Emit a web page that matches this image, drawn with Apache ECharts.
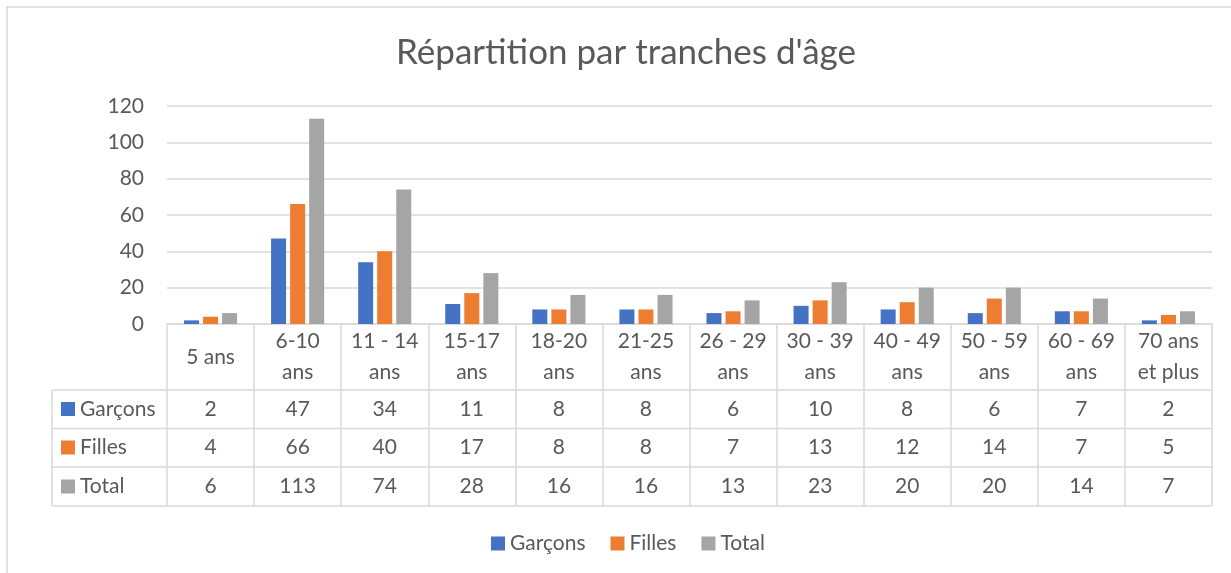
<!DOCTYPE html>
<html>
	<head>
		<meta charset="utf-8">
		<script src="https://cdn.jsdelivr.net/npm/echarts@6/dist/echarts.min.js"></script>
		<style>
			html, body { margin:0; padding:0; background:#fff; }
			#main { width:1231px; height:573px; }
		</style>
	</head>
	<body>
		<div id="main"></div>
		<script>
			// données
			var categories = ['5 ans', '6-10\nans', '11 - 14\nans', '15-17\nans', '18-20\nans', '21-25\nans', '26 - 29\nans', '30 - 39\nans', '40 - 49\nans', '50 - 59\nans', '60 - 69\nans', '70 ans\net plus'];
			var garcons = [2, 47, 34, 11, 8, 8, 6, 10, 8, 6, 7, 2];
			var filles  = [4, 66, 40, 17, 8, 8, 7, 13, 12, 14, 7, 5];
			var total   = [6, 113, 74, 28, 16, 16, 13, 23, 20, 20, 14, 7];
			var seriesNames = ['Garçons', 'Filles', 'Total'];
			var colors = ['#4472C4', '#ED7D31', '#A5A5A5'];
			var yTicks = [0, 20, 40, 60, 80, 100, 120];

			var font = 'Lato, "Open Sans", sans-serif';
			var fs = 21;
			var txt = '#595959';
			var lineC = '#d9d9d9';

			// géométrie du tableau
			var gLeft = 167, gRight = 1212, gTop = 106, gBottom = 324;
			var tableLeft = 52;
			var rowLines = [390, 428.5, 467, 506];
			var rowCenters = [409, 447.5, 486.5];
			var headCenter = 357;

			var rows = [garcons, filles, total];

			var xAxes = [{
				type: 'category',
				gridIndex: 0,
				data: categories,
				position: 'bottom',
				axisLine: {lineStyle: {color: lineC, width: 1.5}},
				axisTick: {show: true, length: rowLines[3] - gBottom, lineStyle: {color: lineC, width: 1.5}},
				axisLabel: {
					color: txt, fontFamily: font, fontSize: fs, lineHeight: 31,
					verticalAlign: 'middle', margin: headCenter - gBottom, interval: 0
				}
			}];
			rows.forEach(function(r, i){
				xAxes.push({
					type: 'category',
					gridIndex: 0,
					data: r.map(String),
					position: 'bottom',
					offset: rowCenters[i] - gBottom,
					axisLine: {show: false},
					axisTick: {show: false},
					axisLabel: {color: txt, fontFamily: font, fontSize: fs, verticalAlign: 'middle', margin: 0, interval: 0}
				});
			});

			var series = rows.map(function(r, i){
				return {
					name: seriesNames[i],
					type: 'bar',
					data: r,
					barWidth: 15,
					barGap: '27%',
					itemStyle: {color: colors[i]}
				};
			});

			var graphic = [];
			graphic.push({type: 'rect', shape: {x: 7, y: 7, width: 1240, height: 600}, style: {fill: 'none', stroke: lineC, lineWidth: 1.5}, silent: true});
			rowLines.forEach(function(y){
				graphic.push({type: 'line', shape: {x1: tableLeft, y1: y, x2: gRight, y2: y}, style: {stroke: lineC, lineWidth: 1.5}, silent: true});
			});
			graphic.push({type: 'line', shape: {x1: tableLeft, y1: rowLines[0], x2: tableLeft, y2: rowLines[3]}, style: {stroke: lineC, lineWidth: 1.5}, silent: true});
			seriesNames.forEach(function(n, i){
				graphic.push({type: 'rect', shape: {x: 61, y: rowCenters[i] - 7, width: 14, height: 14}, style: {fill: colors[i]}, silent: true});
				graphic.push({type: 'text', x: 80, y: rowCenters[i], style: {text: n, fill: txt, font: fs + 'px ' + font, verticalAlign: 'middle'}, silent: true});
			});

			var option = {
				backgroundColor: '#fff',
				animation: false,
				title: {
					text: 'Répartition par tranches d\'âge',
					left: 396,
					top: 35,
					padding: 0,
					textStyle: {color: txt, fontFamily: font, fontSize: 35, fontWeight: 'normal'}
				},
				legend: {
					data: seriesNames,
					bottom: 19,
					left: 491,
					padding: 0,
					itemWidth: 14,
					itemHeight: 14,
					itemGap: 25,
					icon: 'rect',
					textStyle: {color: txt, fontFamily: font, fontSize: fs}
				},
				grid: {left: gLeft, right: 1231 - gRight, top: gTop, bottom: 573 - gBottom},
				xAxis: xAxes,
				yAxis: {
					type: 'value',
					min: yTicks[0],
					max: yTicks[yTicks.length - 1],
					interval: yTicks[1] - yTicks[0],
					axisLine: {show: false},
					axisTick: {show: false},
					axisLabel: {color: txt, fontFamily: font, fontSize: fs, margin: 23},
					splitLine: {lineStyle: {color: lineC, width: 1.5}}
				},
				series: series,
				graphic: graphic
			};

			var myChart = echarts.init(document.getElementById('main'));
			myChart.setOption(option, true);
		</script>
	</body>
</html>
